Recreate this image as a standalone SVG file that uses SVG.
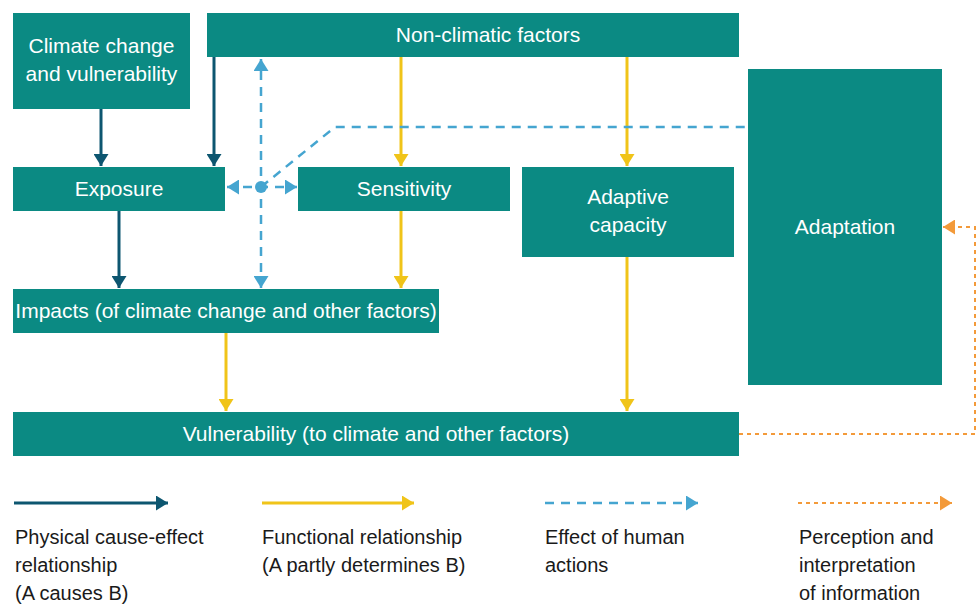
<svg xmlns="http://www.w3.org/2000/svg" width="976" height="605" viewBox="0 0 976 605">
<style>
.box{fill:#0b8a83}
.bt{fill:#ffffff;font-family:"Liberation Sans",Arial,sans-serif;font-size:21px;text-anchor:middle}
.lt{fill:#1a1a1a;font-family:"Liberation Sans",Arial,sans-serif;font-size:20px}
.dark{stroke:#0d5670;stroke-width:3;fill:none;marker-end:url(#ahDark)}
.yel{stroke:#f0c419;stroke-width:3;fill:none;marker-end:url(#ahYel)}
.blue{stroke:#45a5d0;stroke-width:2.5;fill:none;stroke-dasharray:9 7}
.org{stroke:#f39a3a;stroke-width:2;fill:none;stroke-dasharray:4 4;marker-end:url(#ahOrg)}
</style>
<defs>
<marker id="ahDark" markerUnits="userSpaceOnUse" viewBox="0 0 12 15" refX="12" refY="7.5" markerWidth="12" markerHeight="15" orient="auto"><path d="M0,0 L12,7.5 L0,15 z" fill="#0d5670"/></marker>
<marker id="ahYel" markerUnits="userSpaceOnUse" viewBox="0 0 12 15" refX="12" refY="7.5" markerWidth="12" markerHeight="15" orient="auto"><path d="M0,0 L12,7.5 L0,15 z" fill="#f0c419"/></marker>
<marker id="ahBlue" markerUnits="userSpaceOnUse" viewBox="0 0 12 15" refX="12" refY="7.5" markerWidth="12" markerHeight="15" orient="auto-start-reverse"><path d="M0,0 L12,7.5 L0,15 z" fill="#45a5d0"/></marker>
<marker id="ahOrg" markerUnits="userSpaceOnUse" viewBox="0 0 12 15" refX="12" refY="7.5" markerWidth="12" markerHeight="15" orient="auto"><path d="M0,0 L12,7.5 L0,15 z" fill="#f39a3a"/></marker>
</defs>

<g id="connectors">
<path class="dark" d="M101,109 V166"/>
<path class="dark" d="M214,57 V166"/>
<path class="dark" d="M119,211 V288"/>
<path class="yel" d="M401,57 V166"/>
<path class="yel" d="M627,57 V166"/>
<path class="yel" d="M401,211 V288"/>
<path class="yel" d="M226,333 V411"/>
<path class="yel" d="M627,257 V411"/>
<path class="blue" d="M261,288 V59" marker-start="url(#ahBlue)" marker-end="url(#ahBlue)"/>
<path class="blue" d="M227,187 H297" marker-start="url(#ahBlue)" marker-end="url(#ahBlue)"/>
<path class="blue" d="M261,187 L335,127 H748"/>
<circle cx="261" cy="187" r="6" fill="#45a5d0"/>
<path class="org" d="M739,434 H975 V227 H943"/>
</g>

<g id="climate"><rect class="box" x="13" y="13" width="177" height="96"/><text class="bt" x="101.5" y="53">Climate change</text><text class="bt" x="101.5" y="81">and vulnerability</text></g>
<g id="nonclimatic"><rect class="box" x="207" y="13" width="532" height="44"/><text class="bt" x="488" y="42">Non-climatic factors</text></g>
<g id="exposure"><rect class="box" x="13" y="167" width="212" height="44"/><text class="bt" x="119" y="195.5">Exposure</text></g>
<g id="sensitivity"><rect class="box" x="298" y="167" width="212" height="44"/><text class="bt" x="404" y="195.5">Sensitivity</text></g>
<g id="adaptivecapacity"><rect class="box" x="522" y="167" width="212" height="90"/><text class="bt" x="628" y="204">Adaptive</text><text class="bt" x="628" y="232">capacity</text></g>
<g id="adaptation"><rect class="box" x="748" y="69" width="194" height="316"/><text class="bt" x="845" y="234">Adaptation</text></g>
<g id="impacts"><rect class="box" x="13" y="289" width="426" height="44"/><text class="bt" x="226" y="318">Impacts (of climate change and other factors)</text></g>
<g id="vulnerability"><rect class="box" x="13" y="412" width="726" height="44"/><text class="bt" x="376" y="441">Vulnerability (to climate and other factors)</text></g>

<g id="legend">
<path class="dark" d="M14,503 H168" stroke-width="2.5"/>
<path class="yel" d="M262,503 H414" stroke-width="2.5"/>
<path class="blue" d="M545,503 H698" stroke-width="2" stroke-dasharray="6 12" marker-end="url(#ahBlue)"/>
<path class="org" d="M798,503 H952"/>
<text class="lt" x="15" y="544">Physical cause-effect</text>
<text class="lt" x="15" y="572">relationship</text>
<text class="lt" x="15" y="600">(A causes B)</text>
<text class="lt" x="262" y="544">Functional relationship</text>
<text class="lt" x="262" y="572">(A partly determines B)</text>
<text class="lt" x="545" y="544">Effect of human</text>
<text class="lt" x="545" y="572">actions</text>
<text class="lt" x="799" y="544">Perception and</text>
<text class="lt" x="799" y="572">interpretation</text>
<text class="lt" x="799" y="600">of information</text>
</g>
</svg>
